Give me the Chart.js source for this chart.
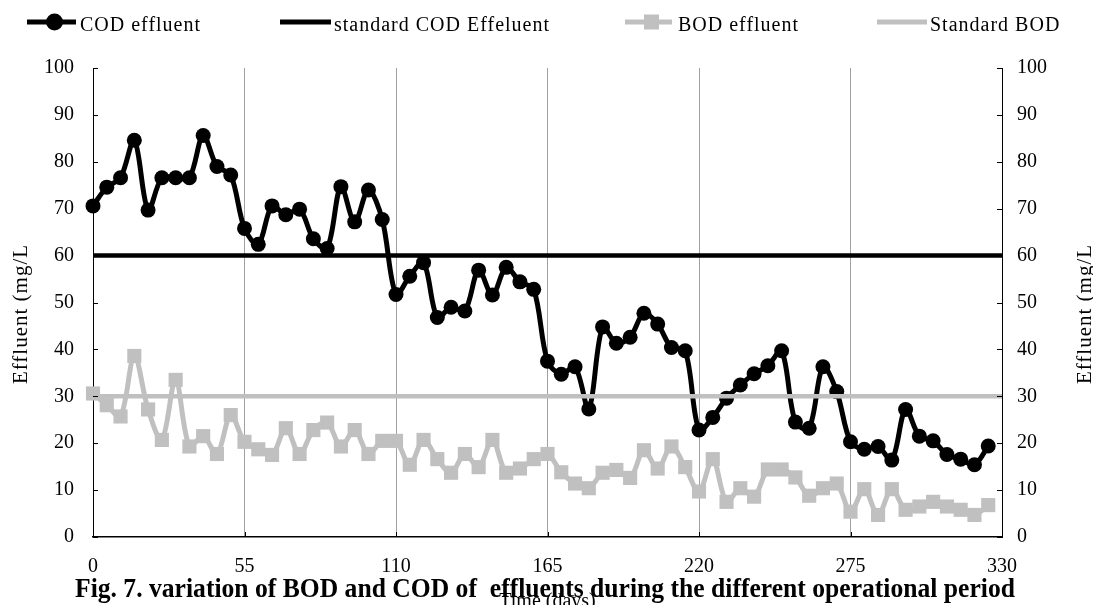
<!DOCTYPE html>
<html>
<head>
<meta charset="utf-8">
<script src="https://cdn.jsdelivr.net/npm/chart.js@4.4.0/dist/chart.umd.min.js"></script>
<style>
  html, body { margin: 0; padding: 0; background: #fff; }
  #wrap { position: relative; width: 1093px; height: 605px; }
</style>
</head>
<body>
<div id="wrap"><canvas id="chart" width="1093" height="605"></canvas></div>
<script>
// Sampling days (every 5 days of operation)
const days = [0, 5, 10, 15, 20, 25, 30, 35, 40, 45, 50, 55, 60, 65, 70, 75, 80, 85, 90, 95,
  100, 105, 110, 115, 120, 125, 130, 135, 140, 145, 150, 155, 160, 165, 170, 175, 180, 185, 190, 195,
  200, 205, 210, 215, 220, 225, 230, 235, 240, 245, 250, 255, 260, 265, 270, 275, 280, 285, 290, 295,
  300, 305, 310, 315, 320, 325];

// COD of the effluent (mg/L)
const codEffluent = [70.6, 74.6, 76.6, 84.6, 69.7, 76.6, 76.6, 76.6, 85.6, 79.0, 77.2, 65.8, 62.4, 70.6, 68.7, 69.9, 63.6, 61.5, 74.7, 67.2,
  74.0, 67.7, 51.7, 55.6, 58.5, 46.8, 49.0, 48.2, 56.9, 51.6, 57.5, 54.4, 52.8, 37.5, 34.7, 36.3, 27.3, 44.8, 41.3, 42.6,
  47.7, 45.4, 40.4, 39.7, 22.8, 25.5, 29.6, 32.4, 34.8, 36.5, 39.7, 24.5, 23.2, 36.3, 31.0, 20.3, 18.7, 19.3, 16.4, 27.2,
  21.5, 20.5, 17.6, 16.6, 15.4, 19.4];

// BOD of the effluent (mg/L)
const bodEffluent = [30.6, 28.1, 25.7, 38.6, 27.2, 20.7, 33.5, 19.3, 21.5, 17.7, 26.0, 20.3, 18.7, 17.5, 23.2, 17.7, 22.8, 24.4, 19.3, 22.8,
  17.7, 20.5, 20.5, 15.4, 20.7, 16.6, 13.7, 17.7, 14.9, 20.7, 13.7, 14.6, 16.6, 17.7, 13.8, 11.4, 10.4, 13.7, 14.3, 12.6,
  18.5, 14.6, 19.3, 14.9, 9.7, 16.6, 7.5, 10.4, 8.6, 14.4, 14.4, 12.7, 8.8, 10.4, 11.4, 5.4, 10.2, 4.7, 10.2, 5.8,
  6.5, 7.5, 6.5, 5.8, 4.7, 6.8];

// Discharge standards, drawn across the whole period
const standardDays = [0, 330];
const codStandard = [60, 60];
const bodStandard = [30, 30];

// Axis ticks
const xTicks = [0, 55, 110, 165, 220, 275, 330];
const yTicks = [0, 10, 20, 30, 40, 50, 60, 70, 80, 90, 100];

const seriesLabels = ['COD effluent', 'standard COD Effeluent', 'BOD effluent', 'Standard BOD'];
const yTitle = 'Effluent (mg/L';
const xTitle = 'Time (days)';
const caption = 'Fig. 7. variation of BOD and COD of  effluents during the different operational period';

const BLACK = '#000000';
const GREY = '#c0c0c0';
const SERIF = '"Liberation Serif", "Times New Roman", serif';

const toPoints = (xs, ys) => xs.map((x, i) => ({ x: x, y: ys[i] }));

// Legend, axis titles, caption and inward tick marks
const decorations = {
  id: 'decorations',
  afterDraw(chart) {
    const { ctx, chartArea: a, scales } = chart;
    ctx.save();

    // inward tick marks on the three axes
    ctx.strokeStyle = BLACK;
    ctx.lineWidth = 1;
    ctx.beginPath();
    yTicks.forEach(v => {
      const y = Math.round(scales.y.getPixelForValue(v)) + 0.5;
      ctx.moveTo(a.left, y); ctx.lineTo(a.left + 5, y);
      ctx.moveTo(a.right - 5, y); ctx.lineTo(a.right, y);
    });
    xTicks.forEach(v => {
      const x = Math.round(scales.x.getPixelForValue(v)) + 0.5;
      ctx.moveTo(x, a.bottom); ctx.lineTo(x, a.bottom - 5);
    });
    ctx.stroke();

    // legend
    const legendY = 22;
    const items = [
      { x0: 27, x1: 76, tx: 80, color: BLACK, marker: 'circle' },
      { x0: 280, x1: 331, tx: 334, color: BLACK, marker: null },
      { x0: 625, x1: 672, tx: 678, color: GREY, marker: 'rect' },
      { x0: 877, x1: 927, tx: 930, color: GREY, marker: null }
    ];
    items.forEach((it, i) => {
      ctx.strokeStyle = it.color;
      ctx.fillStyle = it.color;
      ctx.lineWidth = 5;
      ctx.lineCap = 'butt';
      ctx.beginPath();
      ctx.moveTo(it.x0, legendY); ctx.lineTo(it.x1, legendY);
      ctx.stroke();
      const cx = (it.x0 + it.x1) / 2 + 3;
      if (it.marker === 'circle') {
        ctx.beginPath(); ctx.arc(cx, legendY, 8.5, 0, Math.PI * 2); ctx.fill();
      } else if (it.marker === 'rect') {
        ctx.fillRect(cx - 7.5, legendY - 7.5, 15, 15);
      }
      ctx.fillStyle = BLACK;
      ctx.font = '20px ' + SERIF;
      ctx.textAlign = 'left';
      ctx.textBaseline = 'alphabetic';
      if ('letterSpacing' in ctx) ctx.letterSpacing = '1px';
      ctx.fillText(seriesLabels[i], it.tx, 31);
      if ('letterSpacing' in ctx) ctx.letterSpacing = '0px';
    });

    // vertical axis titles (both read bottom to top)
    const midY = 314;
    ctx.fillStyle = BLACK;
    ctx.font = '21px ' + SERIF;
    ctx.textAlign = 'center';
    ctx.textBaseline = 'alphabetic';
    if ('letterSpacing' in ctx) ctx.letterSpacing = '1px';
    [27, 1091].forEach(bx => {
      ctx.save();
      ctx.translate(bx, midY);
      ctx.rotate(-Math.PI / 2);
      ctx.fillText(yTitle, 0, 0);
      ctx.restore();
    });
    if ('letterSpacing' in ctx) ctx.letterSpacing = '0px';

    // horizontal axis title
    ctx.font = '20px ' + SERIF;
    ctx.textAlign = 'center';
    ctx.fillText(xTitle, (a.left + a.right) / 2, 607);

    // figure caption
    ctx.font = 'bold 27px ' + SERIF;
    ctx.fillText(caption, 545, 597, 940);

    ctx.restore();
  }
};

const tickFont = { family: SERIF, size: 20 };

new Chart(document.getElementById('chart'), {
  type: 'line',
  data: {
    datasets: [
      {
        label: seriesLabels[0],
        data: toPoints(days, codEffluent),
        borderColor: BLACK, backgroundColor: BLACK,
        borderWidth: 5, tension: 0.33,
        pointStyle: 'circle', pointRadius: 7.5, pointBorderWidth: 0,
        clip: false, order: 3
      },
      {
        label: seriesLabels[1],
        data: toPoints(standardDays, codStandard),
        borderColor: BLACK, borderWidth: 4.5, pointRadius: 0,
        clip: false, order: 2
      },
      {
        label: seriesLabels[2],
        data: toPoints(days, bodEffluent),
        borderColor: GREY, backgroundColor: GREY,
        borderWidth: 5, tension: 0.33,
        pointStyle: 'rect', pointRadius: 10, pointBorderWidth: 0,
        clip: false, order: 1
      },
      {
        label: seriesLabels[3],
        data: toPoints(standardDays, bodStandard),
        borderColor: GREY, borderWidth: 4.5, pointRadius: 0,
        clip: false, order: 0
      }
    ]
  },
  options: {
    responsive: false,
    animation: false,
    devicePixelRatio: 1,
    layout: { padding: { top: 68, left: 0, right: 0, bottom: 0 } },
    plugins: { legend: { display: false }, tooltip: { enabled: false } },
    scales: {
      x: {
        type: 'linear', min: 0, max: 330,
        afterBuildTicks: s => { s.ticks = xTicks.map(v => ({ value: v })); },
        afterFit: s => { s.height = 68; },
        grid: { color: '#a0a0a0', lineWidth: 1, drawTicks: false },
        border: { color: BLACK, width: 1.5 },
        ticks: { font: tickFont, color: BLACK, padding: 18, maxRotation: 0 }
      },
      y: {
        position: 'left', min: 0, max: 100,
        afterBuildTicks: s => { s.ticks = yTicks.map(v => ({ value: v })); },
        afterFit: s => { s.width = 93; },
        grid: { display: false, drawTicks: false },
        border: { color: BLACK, width: 1 },
        ticks: { font: tickFont, color: BLACK, padding: 19 }
      },
      y2: {
        position: 'right', min: 0, max: 100,
        afterBuildTicks: s => { s.ticks = yTicks.map(v => ({ value: v })); },
        afterFit: s => { s.width = 91; },
        grid: { display: false, drawTicks: false },
        border: { color: BLACK, width: 1 },
        ticks: { font: tickFont, color: BLACK, padding: 15 }
      }
    }
  },
  plugins: [decorations]
});
</script>
</body>
</html>
